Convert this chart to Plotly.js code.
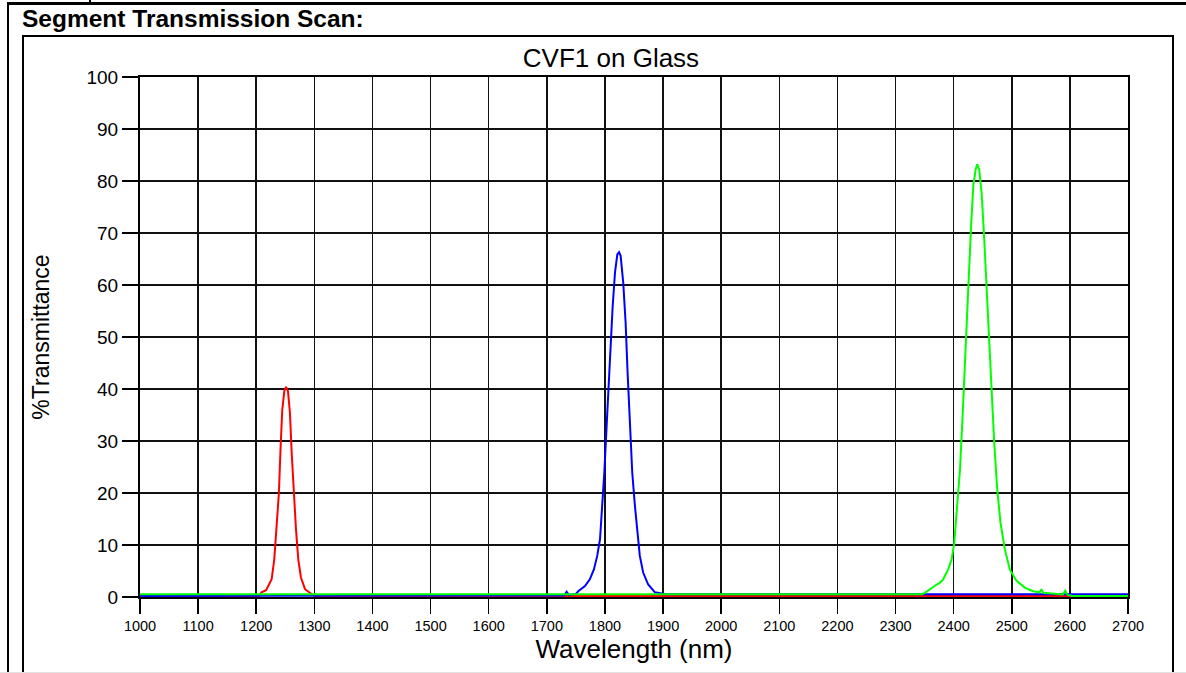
<!DOCTYPE html>
<html>
<head>
<meta charset="utf-8">
<script src="https://cdn.plot.ly/plotly-3.0.1.min.js"></script>
<style>
  html, body { margin: 0; padding: 0; background: #ffffff; }
  #wrap { position: relative; width: 1186px; height: 673px; overflow: hidden; background: #fff; }
  #chart { position: absolute; left: 0; top: 0; width: 1186px; height: 673px; }
  .ln { position: absolute; background: #000; pointer-events: none; }
  #head { position: absolute; left: 22px; top: 5px; line-height: 28px; font-family: "Liberation Sans", Arial, sans-serif;
          font-weight: bold; font-size: 24.5px; color: #000; white-space: nowrap; pointer-events: none; }
</style>
</head>
<body>
<div id="wrap">
  <div id="chart"></div>
  <div class="ln" style="left:8px; top:2px; width:1178px; height:3px;"></div>
  <div class="ln" style="left:89px; top:0px; width:2px; height:3px;"></div>
  <div class="ln" style="left:7px; top:2px; width:2px; height:671px;"></div>
  <div class="ln" style="left:22px; top:35px; width:1152px; height:2px;"></div>
  <div class="ln" style="left:22px; top:35px; width:2px; height:638px;"></div>
  <div class="ln" style="left:1172px; top:35px; width:2px; height:638px;"></div>
  <div class="ln" style="left:0px; top:672px; width:1186px; height:1px; background:#e2e2e2;"></div>
  <div id="head">Segment Transmission Scan:</div>
</div>
<script>
// Wavelength (nm) and %Transmittance
const redX = [1000, 1205, 1209, 1217, 1226.5, 1231, 1235, 1239, 1242, 1244.8, 1248.3, 1251.2, 1254.6, 1258, 1261, 1265, 1268.4, 1272.4, 1277, 1284, 1292.5, 1300, 2700];
const redY = [0.2, 0.2, 0.9, 1.3, 3.4, 7.2, 13.6, 20, 29, 36, 39.6, 40.4, 39.6, 35.4, 27.7, 19.4, 13, 7.2, 3.7, 1.5, 0.8, 0.2, 0.2];

const blueX = [1000, 1730, 1734, 1738, 1750, 1754, 1765.6, 1774, 1781, 1786.7, 1791.5, 1795.4, 1798.9, 1802.9, 1807, 1810.4, 1813.3, 1817.3, 1821.3, 1824.2, 1827, 1831.5, 1835.6, 1839, 1843, 1847, 1851.6, 1855.5, 1860, 1865.8, 1874.4, 1886, 1897.4, 1905, 2700];
const blueY = [0.2, 0.3, 1.0, 0.4, 0.6, 1.1, 2.1, 3.4, 5.3, 7.9, 11.1, 17.5, 23.9, 32.9, 43.1, 49.5, 55.9, 62.4, 65.9, 66.3, 65.6, 60.4, 52.7, 43.1, 32.9, 23.9, 17.5, 12.4, 7.9, 4.7, 2.4, 0.9, 0.7, 0.55, 0.55];

const greenX = [1000, 2345, 2350.6, 2359, 2365, 2370.8, 2376, 2382, 2390.7, 2396.5, 2401, 2406, 2410.9, 2415.4, 2419.4, 2423.4, 2426.9, 2430.3, 2433.8, 2437.8, 2440.6, 2444, 2448.1, 2452.1, 2456.7, 2460.7, 2465.3, 2469.8, 2475, 2480.6, 2488, 2496.7, 2508.2, 2522.5, 2536.8, 2548, 2551, 2554, 2565.6, 2577, 2588, 2592, 2596, 2605, 2700];
const greenY = [0.55, 0.55, 0.8, 1.5, 1.9, 2.4, 2.7, 3.4, 5.3, 7.2, 10.4, 16.8, 24.5, 34.8, 43.8, 54, 63.6, 72, 79, 82.2, 83.2, 82.2, 77.7, 70, 60.4, 50.2, 39.9, 29.7, 20.7, 14.3, 9.2, 5.3, 3.1, 1.8, 1.1, 0.9, 1.5, 0.8, 0.7, 0.6, 0.5, 1.2, 0.4, 0.2, 0.2];

const xTicks = [1000, 1100, 1200, 1300, 1400, 1500, 1600, 1700, 1800, 1900, 2000, 2100, 2200, 2300, 2400, 2500, 2600, 2700];
const yTicks = [0, 10, 20, 30, 40, 50, 60, 70, 80, 90, 100];

const FONT = '"Liberation Sans", Arial, sans-serif';

const traces = [
  { x: redX, y: redY, type: 'scatter', mode: 'lines', line: { color: '#ff0000', width: 2 }, hoverinfo: 'skip' },
  { x: blueX, y: blueY, type: 'scatter', mode: 'lines', line: { color: '#0000ff', width: 2 }, hoverinfo: 'skip' },
  { x: greenX, y: greenY, type: 'scatter', mode: 'lines', line: { color: '#00ff00', width: 2 }, hoverinfo: 'skip' }
];

const layout = {
  width: 1186, height: 673,
  margin: { l: 140, r: 58, t: 77, b: 76, pad: 0 },
  paper_bgcolor: 'rgba(0,0,0,0)',
  plot_bgcolor: '#ffffff',
  showlegend: false,
  font: { family: FONT, color: '#000' },
  title: {
    text: 'CVF1 on Glass',
    font: { family: FONT, size: 26, color: '#000' },
    xref: 'paper', x: 0.4767, xanchor: 'center',
    yref: 'container', y: 1 - 58 / 673, yanchor: 'middle'
  },
  xaxis: {
    range: [1000, 2700],
    tickmode: 'array', tickvals: xTicks, ticktext: xTicks.map(String),
    ticks: 'outside', ticklen: 15, tickwidth: 1.5, tickcolor: '#000',
    tickfont: { family: FONT, size: 14.5, color: '#000' },
    showgrid: true, gridcolor: '#111', gridwidth: 1.5,
    showline: true, linecolor: '#000', linewidth: 2, mirror: true,
    zeroline: false,
    title: { text: 'Wavelength (nm)', font: { family: FONT, size: 26, color: '#000' }, standoff: 4 }
  },
  yaxis: {
    range: [0, 100],
    tickmode: 'array', tickvals: yTicks, ticktext: yTicks.map(String),
    ticks: 'outside', ticklen: 16, tickwidth: 1.5, tickcolor: '#000',
    tickfont: { family: FONT, size: 19, color: '#000' },
    showgrid: true, gridcolor: '#111', gridwidth: 1.5,
    showline: true, linecolor: '#000', linewidth: 2, mirror: true,
    zeroline: false,
    title: { text: '%Transmittance', font: { family: FONT, size: 23, color: '#000' }, standoff: 30 }
  }
};

Plotly.newPlot('chart', traces, layout, { staticPlot: true, displayModeBar: false });
</script>
</body>
</html>
